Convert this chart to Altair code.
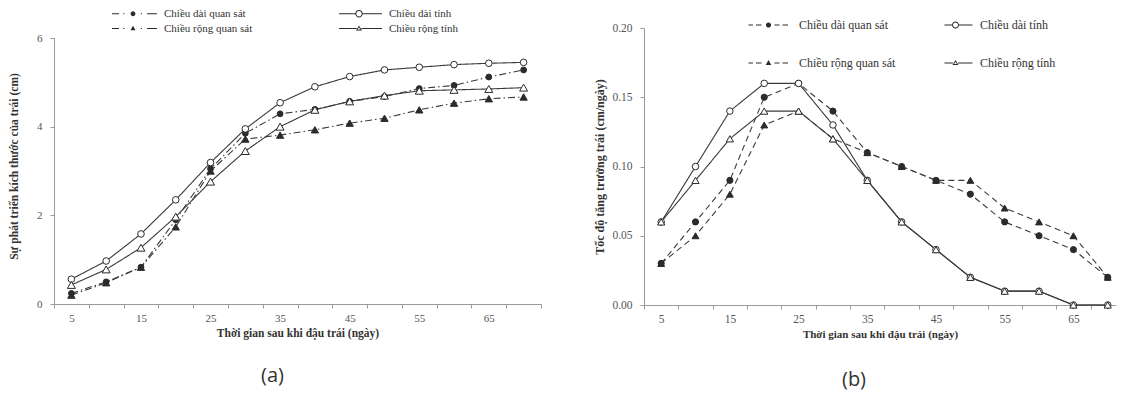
import altair as alt
import pandas as pd

# ---------------- data ----------------
days = [5, 10, 15, 20, 25, 30, 35, 40, 45, 50, 55, 60, 65, 70]
series = ["Chiều dài quan sát", "Chiều dài tính", "Chiều rộng quan sát", "Chiều rộng tính"]
# legend reading order (column-major in a 2-column legend)
legend_order = ["Chiều dài quan sát", "Chiều rộng quan sát", "Chiều dài tính", "Chiều rộng tính"]

# (a) fruit size development (cm)
a_len_obs = [0.24, 0.50, 0.83, 1.90, 3.05, 3.85, 4.29, 4.39, 4.57, 4.68, 4.86, 4.93, 5.12, 5.28]
a_len_calc = [0.56, 0.97, 1.58, 2.35, 3.19, 3.95, 4.54, 4.90, 5.13, 5.28, 5.34, 5.40, 5.43, 5.45]
a_wid_obs = [0.20, 0.48, 0.83, 1.74, 3.00, 3.72, 3.81, 3.93, 4.08, 4.19, 4.38, 4.53, 4.63, 4.67]
a_wid_calc = [0.43, 0.78, 1.27, 1.97, 2.76, 3.45, 4.00, 4.38, 4.57, 4.70, 4.81, 4.83, 4.85, 4.88]

# (b) growth rate (cm/day)
b_len_obs = [0.03, 0.06, 0.09, 0.15, 0.16, 0.14, 0.11, 0.10, 0.09, 0.08, 0.06, 0.05, 0.04, 0.02]
b_len_calc = [0.06, 0.10, 0.14, 0.16, 0.16, 0.13, 0.09, 0.06, 0.04, 0.02, 0.01, 0.01, 0.00, 0.00]
b_wid_obs = [0.03, 0.05, 0.08, 0.13, 0.14, 0.12, 0.11, 0.10, 0.09, 0.09, 0.07, 0.06, 0.05, 0.02]
b_wid_calc = [0.06, 0.09, 0.12, 0.14, 0.14, 0.12, 0.09, 0.06, 0.04, 0.02, 0.01, 0.01, 0.00, 0.00]

x_ticks = [2.5, 5, 7.5, 10, 12.5, 15, 17.5, 20, 22.5, 25, 27.5, 30, 32.5, 35, 37.5, 40,
           42.5, 45, 47.5, 50, 52.5, 55, 57.5, 60, 62.5, 65, 67.5, 70, 72.5]
a_yticks = [0, 2, 4, 6]
b_yticks = [0, 0.05, 0.10, 0.15, 0.20]


def long_df(cols):
    rows = []
    for name, vals in zip(series, cols):
        for d, v in zip(days, vals):
            rows.append({"day": d, "value": v, "series": name})
    return pd.DataFrame(rows)


df_a = long_df([a_len_obs, a_len_calc, a_wid_obs, a_wid_calc])
df_b = long_df([b_len_obs, b_len_calc, b_wid_obs, b_wid_calc])

INK = "#2b2b2b"
AXIS = "#9a9a9a"
SERIF = "Liberation Serif"


# ------------- legend symbol paths (fill-only line + marker), 1 unit = 1 px -------------
def P(x, y):
    return f"{x:.2f},{y:.2f}"


def bar(x0, x1, t=0.5):
    return f"M{P(x0, -t)}L{P(x1, -t)}L{P(x1, t)}L{P(x0, t)}Z"


def circ(cx, r, sweep):
    return (f"M{P(cx - r, 0)}A{r:.2f},{r:.2f} 0 1,{sweep} {P(cx + r, 0)}"
            f"A{r:.2f},{r:.2f} 0 1,{sweep} {P(cx - r, 0)}Z")


def tri_pts(cx, w, h):
    return [(cx, -h * 0.6), (cx + w / 2, h * 0.4), (cx - w / 2, h * 0.4)]


def poly(pts):
    return "M" + "L".join(P(*p) for p in pts) + "Z"


def filled_circle(cx, r):
    return circ(cx, r, 1)


def open_circle(cx, r, t=0.5):
    return circ(cx, r + t, 1) + circ(cx, r - t, 0)


def filled_tri(cx, w, h):
    return poly(tri_pts(cx, w, h))


def open_tri(cx, w, h, t=0.9):
    outer = tri_pts(cx, w, h)
    side = (w * w / 4 + h * h) ** 0.5
    rin = (w * h) / (w + 2 * side)
    k = max(rin - t, 0.2) / rin
    gx = sum(p[0] for p in outer) / 3
    gy = sum(p[1] for p in outer) / 3
    inner = [(gx + (px - gx) * k, gy + (py - gy) * k) for px, py in outer]
    return poly(outer) + poly(list(reversed(inner)))


def bars(pairs):
    return "".join(bar(a, b) for a, b in pairs)


# paths in legend_order: len obs, wid obs, len calc, wid calc
a_dashdot = [(-45, -38), (-33.8, -32.6), (-16.2, -15), (-10, 0)]
a_paths = [
    bars(a_dashdot) + filled_circle(-24, 2.4),
    bars(a_dashdot) + filled_tri(-24, 5, 4.5),
    bars([(-43, -26.7), (-19.3, 0)]) + open_circle(-23, 3.2),
    bars([(-43, -25.4), (-20.6, 0)]) + open_tri(-23, 6, 5),
]
b_dash = [(-43, -38.5), (-35.5, -30), (-17, -12), (-9, -3.5)]
b_paths = [
    bars(b_dash) + filled_circle(-23, 2.6),
    bars(b_dash) + filled_tri(-23, 5.5, 5),
    bars([(-28, -20.5), (-13.5, 0)]) + open_circle(-17, 3),
    bars([(-28, -19.6), (-14.4, 0)]) + open_tri(-17, 6, 5),
]


def panel(df, width, height, xdomain, ydomain, yticks, yfmt, ytitle, dash_obs,
          sizes, paths, leg, lab_size, ytitle_size, xtitle_size, ytitle_pad,
          panel_label, label_dx, label_offset, own_yline):
    base = alt.Chart(df)
    x_axis = alt.Axis(
        values=x_ticks,
        labelExpr="(datum.value % 10 == 5 && datum.value < 70) ? '' + datum.value : ''",
        tickOpacity={"condition": {"test": "datum.value % 5 != 0", "value": 1}, "value": 0},
        labelOverlap=False, labelFlush=False, grid=False,
        title="Thời gian sau khi đậu trái (ngày)",
        titleFontSize=xtitle_size, titlePadding=4, labelPadding=4,
        labelFontSize=lab_size,
    )
    y_axis = alt.Axis(values=yticks, format=yfmt, grid=False, title=ytitle,
                      titleFontSize=ytitle_size, titlePadding=ytitle_pad,
                      labelPadding=8, labelFontSize=lab_size, domain=not own_yline)
    y_scale = alt.Scale(domain=ydomain, nice=False, zero=False)
    x = alt.X("day:Q", scale=alt.Scale(domain=xdomain, nice=False, zero=False), axis=x_axis)
    y = alt.Y("value:Q", scale=y_scale, axis=y_axis)

    layers = []
    if own_yline:
        # y-axis line running only over the labelled range (first to last tick)
        yline_df = pd.DataFrame({"lo": [yticks[0]], "hi": [yticks[-1]]})
        layers.append(
            alt.Chart(yline_df).mark_rule(color=AXIS, strokeWidth=1).encode(
                x=alt.value(0.5),
                y=alt.Y("lo:Q", scale=y_scale, axis=y_axis),
                y2="hi:Q")
        )

    lines = base.mark_line(strokeWidth=1.1, color="#3a3a3a").encode(
        x=x, y=y,
        detail="series:N",
        strokeDash=alt.StrokeDash("series:N", scale=alt.Scale(
            domain=series, range=[dash_obs, [1, 0], dash_obs, [1, 0]]), legend=None),
    )
    points = base.mark_point(filled=True, stroke=INK, strokeWidth=1, opacity=1).encode(
        x=x, y=y,
        shape=alt.Shape("series:N", scale=alt.Scale(
            domain=series, range=["circle", "circle", "triangle-up", "triangle-up"]), legend=None),
        fill=alt.Fill("series:N", scale=alt.Scale(
            domain=series, range=[INK, "white", INK, "white"]), legend=None),
        size=alt.Size("series:N", scale=alt.Scale(domain=series, range=sizes), legend=None),
    )
    legend_layer = base.mark_point(filled=False, fill=INK, stroke=INK, strokeWidth=1,
                                   opacity=1).encode(
        x=x, y=y,
        shape=alt.Shape("series:N", scale=alt.Scale(domain=legend_order, range=paths),
                        legend=alt.Legend(
                            title=None, orient="none", legendX=leg["x"], legendY=leg["y"],
                            columns=2, columnPadding=leg["colpad"], rowPadding=leg["rowpad"],
                            padding=0,
                            symbolSize=4, symbolStrokeWidth=0,
                            symbolFillColor=INK, symbolOpacity=1,
                            labelFont=SERIF, labelFontSize=leg["fs"], labelColor="#333",
                            labelOffset=1.5, labelLimit=300)),
    ).transform_filter("datum.day < 0")
    layers += [lines, points, legend_layer]

    return alt.layer(*layers).resolve_scale(
        shape="independent"
    ).properties(
        width=width, height=height,
        title=alt.TitleParams(panel_label, orient="bottom", anchor="middle", dx=label_dx,
                              font="Open Sans", fontSize=20, fontWeight="normal",
                              color="#333", offset=label_offset),
    )


# panel (a): plot area reaches up to the height of panel (b); value 6 sits 10 px lower
A_TOP_VALUE = 6 * 276 / 266
chart_a = panel(df_a, 487, 276, [2.5, 72.5], [0, A_TOP_VALUE], a_yticks, "d",
                "Sự phát triển kích thước của trái (cm)", [7, 3, 1.5, 3],
                [34, 64, 36, 34], a_paths,
                {"x": 97.5, "y": -20, "colpad": 86, "rowpad": 3, "fs": 11},
                11, 11.5, 11.5, 17, "(a)", -25, 27, True)

chart_b = panel(df_b, 472, 277, [2.5, 71.2], [0, 0.2], b_yticks, ".2f",
                "Tốc độ tăng trưởng trái  (cm/ngày)", [6, 4],
                [38, 52, 36, 34], b_paths,
                {"x": 141.5, "y": -9, "colpad": 49, "rowpad": 26, "fs": 12},
                11.5, 12, 11, 5, "(b)", -26, 30, False)

chart = alt.hconcat(chart_a, chart_b, spacing=51).resolve_scale(
    strokeDash="independent", size="independent", fill="independent", shape="independent",
).configure(
    padding=0,
).configure_view(
    stroke=None,
).configure_axis(
    domainColor=AXIS, tickColor=AXIS, tickSize=4,
    labelColor="#555", labelFont=SERIF,
    titleFont=SERIF, titleFontWeight="bold", titleColor="#333",
)

chart.save("out.html", embed_options={"renderer": "svg", "actions": False})
